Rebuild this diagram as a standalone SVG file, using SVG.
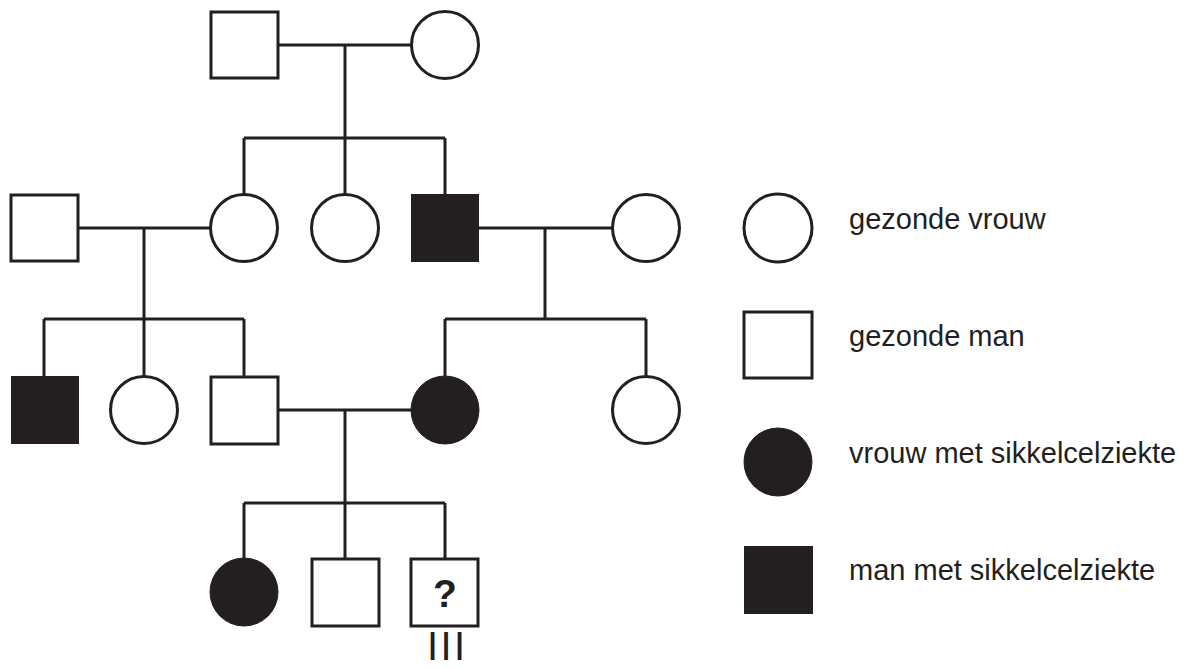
<svg xmlns="http://www.w3.org/2000/svg" width="1191" height="669" viewBox="0 0 1191 669">
<style>
.o{fill:#fff;stroke:#231f20;stroke-width:3}
.f{fill:#231f20;stroke:#231f20;stroke-width:1}
.c line{stroke:#231f20;stroke-width:3;stroke-linecap:butt}
.t{font-family:"Liberation Sans",Arial,sans-serif;font-size:29px;fill:#231f20}
.q{font-family:"Liberation Sans",Arial,sans-serif;font-size:39px;font-weight:bold;fill:#231f20;text-anchor:middle}
.r{font-family:"Liberation Sans",Arial,sans-serif;font-size:40px;letter-spacing:2.4px;fill:#231f20}
</style>
<rect width="1191" height="669" fill="#fff"/>
<g id="connectors" class="c">
<line x1="278" y1="45" x2="411" y2="45"/>
<line x1="345" y1="45" x2="345" y2="138"/>
<line x1="244" y1="138" x2="445" y2="138"/>
<line x1="244" y1="138" x2="244" y2="195"/>
<line x1="345" y1="138" x2="345" y2="195"/>
<line x1="445" y1="138" x2="445" y2="195"/>
<line x1="78" y1="228" x2="211" y2="228"/>
<line x1="144" y1="228" x2="144" y2="319"/>
<line x1="44" y1="319" x2="244" y2="319"/>
<line x1="44" y1="319" x2="44" y2="377"/>
<line x1="144" y1="319" x2="144" y2="377"/>
<line x1="244" y1="319" x2="244" y2="377"/>
<line x1="479" y1="228" x2="612" y2="228"/>
<line x1="545" y1="228" x2="545" y2="319"/>
<line x1="445" y1="319" x2="646" y2="319"/>
<line x1="445" y1="319" x2="445" y2="377"/>
<line x1="646" y1="319" x2="646" y2="377"/>
<line x1="278" y1="410" x2="412" y2="410"/>
<line x1="345" y1="410" x2="345" y2="503"/>
<line x1="244" y1="503" x2="445" y2="503"/>
<line x1="244" y1="503" x2="244" y2="558"/>
<line x1="345" y1="503" x2="345" y2="558"/>
<line x1="445" y1="503" x2="445" y2="558"/>
</g>
<g id="g1-man"><rect class="o" x="211" y="12" width="67" height="66"/></g>
<g id="g1-woman"><circle class="o" cx="445" cy="45" r="33.5"/></g>
<g id="g2-man-left"><rect class="o" x="11" y="195" width="67" height="66"/></g>
<g id="g2-woman-1"><circle class="o" cx="244" cy="228" r="33.5"/></g>
<g id="g2-woman-2"><circle class="o" cx="345" cy="228" r="33.5"/></g>
<g id="g2-man-affected"><rect class="f" x="411.5" y="194.5" width="67" height="67"/></g>
<g id="g2-woman-right"><circle class="o" cx="646" cy="228" r="33.5"/></g>
<g id="g3-man-affected"><rect class="f" x="11.5" y="376.5" width="67" height="67"/></g>
<g id="g3-woman"><circle class="o" cx="144" cy="410" r="33.5"/></g>
<g id="g3-man"><rect class="o" x="211" y="377" width="67" height="67"/></g>
<g id="g3-woman-affected"><circle class="f" cx="445" cy="410" r="34"/></g>
<g id="g3-woman-right"><circle class="o" cx="646" cy="410" r="33.5"/></g>
<g id="g4-woman-affected"><circle class="f" cx="244" cy="592" r="34"/></g>
<g id="g4-man"><rect class="o" x="312" y="559" width="67" height="67"/></g>
<g id="g4-unknown"><rect class="o" x="411" y="559" width="67" height="67"/><text class="q" x="445" y="607">?</text></g>
<g id="label-III"><text class="r" x="426.9" y="660">III</text></g>
<g id="legend-woman"><circle class="o" cx="778" cy="228" r="34"/><text class="t" x="849" y="229">gezonde vrouw</text></g>
<g id="legend-man"><rect class="o" x="744" y="312" width="68" height="66"/><text class="t" x="849" y="346">gezonde man</text></g>
<g id="legend-woman-affected"><circle class="f" cx="778" cy="462" r="34"/><text class="t" x="849" y="463">vrouw met sikkelcelziekte</text></g>
<g id="legend-man-affected"><rect class="f" x="744.5" y="546.5" width="68" height="67"/><text class="t" x="849" y="580">man met sikkelcelziekte</text></g>
</svg>
